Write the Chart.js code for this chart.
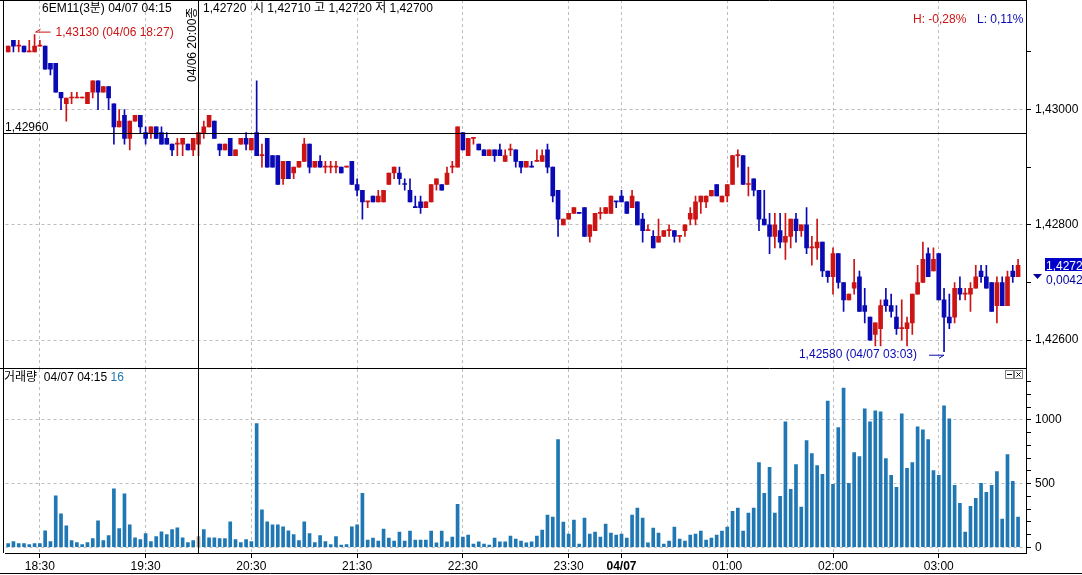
<!DOCTYPE html>
<html>
<head>
<meta charset="utf-8">
<script src="https://cdn.jsdelivr.net/npm/chart.js@4.4.1/dist/chart.umd.min.js"></script>
<style>
  html, body { margin: 0; padding: 0; background: #fff; overflow: hidden; }
  #wrap { position: relative; width: 1082px; height: 575px; }
  canvas { position: absolute; left: 0; }
  #price { top: 0; }
  #volume { top: 369px; }
</style>
</head>
<body>
<div id="wrap">
  <canvas id="price" width="1082" height="369"></canvas>
  <canvas id="volume" width="1082" height="206"></canvas>
</div>
<script>
// 3-minute bars, 04/06 18:12 .. 04/07 03:45
const times = [
  '18:12','18:15','18:18','18:21','18:24','18:27','18:30','18:33','18:36','18:39','18:42','18:45','18:48','18:51','18:54','18:57',
  '19:00','19:03','19:06','19:09','19:12','19:15','19:18','19:21','19:24','19:27','19:30','19:33','19:36','19:39','19:42','19:45','19:48','19:51','19:54','19:57',
  '20:00','20:03','20:06','20:09','20:12','20:15','20:18','20:21','20:24','20:27','20:30','20:33','20:36','20:39','20:42','20:45','20:48','20:51','20:54','20:57',
  '21:00','21:03','21:06','21:09','21:12','21:15','21:18','21:21','21:24','21:27','21:30','21:33','21:36','21:39','21:42','21:45','21:48','21:51','21:54','21:57',
  '22:00','22:03','22:06','22:09','22:12','22:15','22:18','22:21','22:24','22:27','22:30','22:33','22:36','22:39','22:42','22:45','22:48','22:51','22:54','22:57',
  '23:00','23:03','23:06','23:09','23:12','23:15','23:18','23:21','23:24','23:27','23:30','23:33','23:36','23:39','23:42','23:45','23:48','23:51','23:54','23:57',
  '00:00','00:03','00:06','00:09','00:12','00:15','00:18','00:21','00:24','00:27','00:30','00:33','00:36','00:39','00:42','00:45','00:48','00:51','00:54','00:57',
  '01:00','01:03','01:06','01:09','01:12','01:15','01:18','01:21','01:24','01:27','01:30','01:33','01:36','01:39','01:42','01:45','01:48','01:51','01:54','01:57',
  '02:00','02:03','02:06','02:09','02:12','02:15','02:18','02:21','02:24','02:27','02:30','02:33','02:36','02:39','02:42','02:45','02:48','02:51','02:54','02:57',
  '03:00','03:03','03:06','03:09','03:12','03:15','03:18','03:21','03:24','03:27','03:30','03:33','03:36','03:39','03:42','03:45'
]

const opens = [
  1.4310,1.4312,1.4311,1.4311,1.4310,1.4310,1.4311,1.4311,1.4308,1.4308,
  1.4303,1.4301,1.4302,1.4302,1.4302,1.4301,1.4303,1.4305,1.4303,1.4304,
  1.4301,1.4297,1.4299,1.4295,1.4298,1.4299,1.4296,1.4296,1.4297,1.4296,
  1.4295,1.4294,1.4294,1.4294,1.4294,1.4293,1.4294,1.4296,1.4297,1.4298,
  1.4294,1.4293,1.4295,1.4292,1.4294,1.4295,1.4293,1.4296,1.4292,1.4295,
  1.4292,1.4292,1.4288,1.4291,1.4289,1.4290,1.4291,1.4294,1.4290,1.4291,
  1.4290,1.4290,1.4290,1.4290,1.4290,1.4291,1.4287,1.4286,1.4284,1.4285,
  1.4284,1.4284,1.4287,1.4289,1.4289,1.4287,1.4286,1.4283,1.4284,1.4283,
  1.4284,1.4287,1.4287,1.4287,1.4290,1.4290,1.4296,1.4292,1.4295,1.4294,
  1.4293,1.4292,1.4293,1.4293,1.4291,1.4293,1.4293,1.4291,1.4290,1.4290,
  1.4291,1.4291,1.4293,1.4290,1.4286,1.4280,1.4281,1.4282,1.4282,1.4283,
  1.4278,1.4279,1.4282,1.4282,1.4282,1.4284,1.4285,1.4284,1.4283,1.4284,
  1.4281,1.4279,1.4278,1.4277,1.4278,1.4279,1.4279,1.4278,1.4279,1.4281,
  1.4281,1.4284,1.4284,1.4285,1.4287,1.4284,1.4285,1.4287,1.4292,1.4292,
  1.4287,1.4288,1.4286,1.4281,1.4280,1.4278,1.4279,1.4277,1.4278,1.4281,
  1.4279,1.4280,1.4276,1.4276,1.4277,1.4272,1.4271,1.4275,1.4270,1.4267,
  1.4269,1.4271,1.4266,1.4264,1.4261,1.4262,1.4267,1.4266,1.4264,1.4262,
  1.4262,1.4263,1.4268,1.4270,1.4275,1.4272,1.4275,1.4267,1.4264,1.4264,
  1.4269,1.4268,1.4268,1.4269,1.4272,1.4271,1.4270,1.4266,1.4270,1.4266,
  1.4272,1.4271
]
const highs = [
  1.4311,1.4312,1.4312,1.4311,1.4312,1.4313,1.4312,1.4311,1.4308,1.4308,
  1.4303,1.4302,1.4303,1.4303,1.4302,1.4303,1.4305,1.4305,1.4304,1.4304,
  1.4301,1.4300,1.4300,1.4298,1.4299,1.4299,1.4297,1.4297,1.4297,1.4297,
  1.4296,1.4294,1.4295,1.4295,1.4294,1.4295,1.4296,1.4298,1.4299,1.4298,
  1.4294,1.4294,1.4295,1.4293,1.4295,1.4296,1.4295,1.4305,1.4294,1.4295,
  1.4292,1.4292,1.4291,1.4291,1.4290,1.4291,1.4295,1.4294,1.4291,1.4292,
  1.4291,1.4291,1.4291,1.4290,1.4290,1.4291,1.4288,1.4286,1.4284,1.4285,
  1.4286,1.4286,1.4289,1.4290,1.4290,1.4288,1.4288,1.4285,1.4285,1.4284,
  1.4287,1.4288,1.4287,1.4290,1.4291,1.4297,1.4296,1.4295,1.4295,1.4294,
  1.4293,1.4293,1.4293,1.4294,1.4293,1.4294,1.4293,1.4291,1.4291,1.4291,
  1.4293,1.4293,1.4294,1.4290,1.4286,1.4281,1.4282,1.4283,1.4282,1.4283,
  1.4280,1.4282,1.4283,1.4283,1.4285,1.4284,1.4286,1.4284,1.4286,1.4284,
  1.4282,1.4280,1.4279,1.4281,1.4279,1.4280,1.4279,1.4278,1.4280,1.4283,
  1.4285,1.4285,1.4285,1.4286,1.4287,1.4285,1.4287,1.4292,1.4293,1.4292,
  1.4290,1.4288,1.4286,1.4286,1.4282,1.4282,1.4282,1.4282,1.4281,1.4282,
  1.4280,1.4283,1.4278,1.4281,1.4277,1.4272,1.4276,1.4275,1.4270,1.4268,
  1.4274,1.4272,1.4269,1.4264,1.4263,1.4267,1.4269,1.4268,1.4266,1.4267,
  1.4264,1.4268,1.4273,1.4277,1.4276,1.4276,1.4275,1.4269,1.4268,1.4270,
  1.4271,1.4269,1.4270,1.4273,1.4273,1.4273,1.4270,1.4271,1.4271,1.4272,
  1.4273,1.4274
]
const lows = [
  1.4310,1.4310,1.4310,1.4310,1.4310,1.4310,1.4311,1.4307,1.4306,1.4303,
  1.4300,1.4298,1.4301,1.4302,1.4302,1.4301,1.4302,1.4300,1.4303,1.4300,
  1.4294,1.4297,1.4294,1.4293,1.4298,1.4296,1.4294,1.4295,1.4295,1.4294,
  1.4294,1.4292,1.4292,1.4292,1.4293,1.4292,1.4292,1.4295,1.4297,1.4295,
  1.4292,1.4293,1.4292,1.4292,1.4294,1.4293,1.4293,1.4292,1.4290,1.4290,
  1.4290,1.4287,1.4287,1.4288,1.4288,1.4290,1.4291,1.4289,1.4290,1.4290,
  1.4289,1.4289,1.4289,1.4289,1.4290,1.4287,1.4285,1.4281,1.4283,1.4284,
  1.4284,1.4284,1.4287,1.4288,1.4287,1.4286,1.4284,1.4283,1.4282,1.4283,
  1.4284,1.4286,1.4286,1.4287,1.4289,1.4290,1.4293,1.4292,1.4294,1.4293,
  1.4292,1.4292,1.4291,1.4292,1.4291,1.4292,1.4290,1.4289,1.4290,1.4290,
  1.4291,1.4291,1.4289,1.4284,1.4278,1.4280,1.4281,1.4282,1.4282,1.4278,
  1.4277,1.4279,1.4281,1.4282,1.4282,1.4283,1.4284,1.4282,1.4283,1.4280,
  1.4277,1.4279,1.4276,1.4277,1.4278,1.4278,1.4277,1.4277,1.4278,1.4280,
  1.4280,1.4282,1.4283,1.4285,1.4285,1.4284,1.4284,1.4287,1.4290,1.4287,
  1.4285,1.4285,1.4279,1.4280,1.4275,1.4276,1.4276,1.4274,1.4276,1.4277,
  1.4278,1.4275,1.4273,1.4274,1.4271,1.4270,1.4268,1.4269,1.4265,1.4267,
  1.4268,1.4265,1.4263,1.4260,1.4259,1.4259,1.4265,1.4264,1.4261,1.4260,
  1.4259,1.4261,1.4268,1.4270,1.4271,1.4272,1.4267,1.4258,1.4262,1.4263,
  1.4267,1.4267,1.4265,1.4269,1.4270,1.4269,1.4265,1.4263,1.4266,1.4266,
  1.4270,1.4271
]
const closes = [
  1.4311,1.4311,1.4311,1.4310,1.4310,1.4311,1.4311,1.4307,1.4307,1.4303,
  1.4302,1.4302,1.4302,1.4302,1.4302,1.4303,1.4305,1.4303,1.4304,1.4302,
  1.4297,1.4298,1.4295,1.4298,1.4299,1.4297,1.4295,1.4297,1.4295,1.4294,
  1.4294,1.4293,1.4294,1.4295,1.4293,1.4295,1.4296,1.4297,1.4299,1.4295,
  1.4293,1.4294,1.4292,1.4293,1.4295,1.4294,1.4295,1.4292,1.4292,1.4290,
  1.4290,1.4287,1.4291,1.4288,1.4290,1.4291,1.4294,1.4290,1.4291,1.4290,
  1.4290,1.4290,1.4290,1.4289,1.4290,1.4287,1.4286,1.4284,1.4284,1.4284,
  1.4285,1.4286,1.4289,1.4290,1.4288,1.4287,1.4284,1.4283,1.4283,1.4284,
  1.4287,1.4288,1.4286,1.4289,1.4290,1.4297,1.4293,1.4295,1.4295,1.4293,
  1.4292,1.4293,1.4292,1.4292,1.4292,1.4293,1.4291,1.4290,1.4291,1.4290,
  1.4291,1.4292,1.4290,1.4285,1.4281,1.4281,1.4282,1.4283,1.4282,1.4278,
  1.4280,1.4282,1.4282,1.4283,1.4285,1.4284,1.4284,1.4282,1.4285,1.4280,
  1.4279,1.4279,1.4276,1.4278,1.4279,1.4279,1.4278,1.4278,1.4280,1.4282,
  1.4284,1.4285,1.4285,1.4286,1.4285,1.4285,1.4287,1.4292,1.4292,1.4287,
  1.4287,1.4286,1.4281,1.4280,1.4278,1.4280,1.4277,1.4278,1.4281,1.4279,
  1.4280,1.4276,1.4276,1.4277,1.4272,1.4271,1.4275,1.4270,1.4267,1.4268,
  1.4270,1.4265,1.4265,1.4260,1.4263,1.4266,1.4266,1.4265,1.4262,1.4262,
  1.4263,1.4268,1.4270,1.4274,1.4271,1.4274,1.4267,1.4264,1.4263,1.4269,
  1.4268,1.4268,1.4269,1.4271,1.4271,1.4269,1.4265,1.4270,1.4266,1.4271,
  1.4271,1.4273
]
const volumes = [
  29,44,29,29,21,29,29,130,44,403,
  263,169,52,36,21,36,68,208,52,91,
  458,146,419,177,75,60,107,44,83,122,
  99,138,153,75,36,52,83,138,75,75,
  68,68,200,60,36,60,44,972,294,200,
  177,177,161,130,99,52,200,107,36,91,
  44,21,83,17,21,161,177,424,57,73,
  49,143,73,49,120,49,127,57,57,57,
  127,34,127,42,81,338,81,96,26,42,
  26,18,73,42,42,88,65,49,34,42,
  88,135,252,237,845,198,104,213,26,229,
  104,120,81,182,112,96,104,73,252,307,
  229,34,151,112,26,49,159,65,49,96,
  104,127,57,73,96,127,159,283,307,127,
  268,307,666,424,627,268,400,985,455,650,
  315,837,736,642,572,1149,494,939,1251,502,
  744,712,1087,985,1071,1063,697,564,471,1048,
  619,666,946,923,845,603,564,1110,1009,486,
  346,120,322,385,502,432,486,595,221,728,
  517,237
]

// axis ticks
const tickTimes = ['18:30','19:30','20:30','21:30','22:30','23:30','00:00','01:00','02:00','03:00']
const tickLabels = ['18:30','19:30','20:30','21:30','22:30','23:30','04/07','01:00','02:00','03:00']
const priceTicks = [1.426, 1.427, 1.428, 1.429, 1.430, 1.431]
const volumeTicks = [0,100,200,300,400,500,600,700,800,900,1000,1100,1200,1300]

// header / crosshair texts
const title = '6EM11(3분) 04/07 04:15'
const lastInfo = '1,42720'
const ohlcInfo = '시 1,42710 고 1,42720 저 1,42700'
const crossTime = '20:00'
const crossLabel = '04/06 20:00종'
const crossPrice = 1.4296
const highText = 'H: -0,28%'
const lowText = 'L: 0,11%'
const currentPrice = '1,42720'
const currentDiff = '0,00420'
const volTitle = '거래량  04/07 04:15'
const volLast = '16'

const FONT = '"Liberation Sans", "Noto Sans CJK KR", sans-serif'
const RED = '#cc1414'
const BLUE = '#0a0ab4'
const VOL = '#1f77b4'
const GRID = '#bdbdbd'
Chart.defaults.font.family = FONT
Chart.defaults.font.size = 12
Chart.defaults.color = '#000'

const slots = times.concat([''])
const crossIndex = times.indexOf(crossTime)
const isTimeTick = (i) => tickTimes.includes(slots[i])
const fmt = (v) => v.toFixed(5).replace('.', ',')

const candleColors = closes.map((c, i) => {
  if (c > opens[i]) return RED
  if (c < opens[i]) return BLUE
  return (i === 0 || c >= closes[i - 1]) ? RED : BLUE
})

function line(ctx, x1, y1, x2, y2) {
  ctx.beginPath()
  ctx.moveTo(x1, y1)
  ctx.lineTo(x2, y2)
  ctx.stroke()
}

// right axis: fixed width, no label overhang padding
function fitRight(s) {
  s.width = 56
  s.paddingTop = 0
  s.paddingBottom = 0
}

const priceOverlay = {
  id: 'priceOverlay',
  afterDraw(chart) {
    const { ctx, chartArea: a, scales: { x, y } } = chart
    ctx.save()
    ctx.font = '12px ' + FONT
    ctx.lineWidth = 1
    ctx.strokeStyle = '#000'
    line(ctx, 3.5, 0, 3.5, a.bottom)
    line(ctx, 0, 0.5, a.right, 0.5)
    // separator between the two panels
    line(ctx, 0, a.bottom - 0.5, a.right, a.bottom - 0.5)

    // crosshair
    const cx = Math.round(x.getPixelForValue(crossIndex)) + 0.5
    const cy = Math.round(y.getPixelForValue(crossPrice)) + 0.5
    line(ctx, cx, 0, cx, a.bottom)
    line(ctx, 3.5, cy, a.right, cy)
    ctx.fillStyle = '#000'
    ctx.fillText(fmt(crossPrice), 5, cy - 3)
    ctx.save()
    ctx.translate(cx - 3, 82)
    ctx.rotate(-Math.PI / 2)
    ctx.fillText(crossLabel, 0, 0)
    ctx.restore()

    // header
    ctx.fillText(title, 42, 12)
    ctx.fillText(lastInfo, 203, 12)
    ctx.fillText(ohlcInfo, 253, 12)
    ctx.fillStyle = RED
    ctx.fillText(highText, 913, 23)
    ctx.fillStyle = BLUE
    ctx.fillText(lowText, 977, 23)

    // highest high marker
    const hi = highs.indexOf(Math.max(...highs))
    const hx = x.getPixelForValue(hi)
    const hy = y.getPixelForValue(highs[hi])
    ctx.strokeStyle = RED
    line(ctx, hx + 1, hy - 2.5, hx + 16, hy - 2.5)
    line(ctx, hx + 1, hy - 2.5, hx + 6, hy - 5.5)
    ctx.fillStyle = RED
    ctx.fillText(fmt(highs[hi]) + ' (04/06 ' + times[hi] + ')', hx + 21, hy + 1)

    // lowest low marker
    const lo = lows.indexOf(Math.min(...lows))
    const lx = x.getPixelForValue(lo)
    const ly = y.getPixelForValue(lows[lo])
    ctx.strokeStyle = BLUE
    line(ctx, lx - 15, ly + 3.5, lx, ly + 3.5)
    line(ctx, lx, ly + 3.5, lx - 5, ly + 6.5)
    ctx.fillStyle = BLUE
    ctx.textAlign = 'right'
    ctx.fillText(fmt(lows[lo]) + ' (04/07 ' + times[lo] + ')', lx - 27, ly + 6.5)
    ctx.textAlign = 'left'

    // current price tag
    const py = Math.round(y.getPixelForValue(closes[closes.length - 1]))
    ctx.fillStyle = '#0000c8'
    ctx.fillRect(1045, py - 7, 37, 13)
    ctx.fillStyle = '#fff'
    ctx.fillText(currentPrice, 1046, py + 5)
    ctx.fillStyle = '#0000a0'
    ctx.beginPath()
    ctx.moveTo(1033, py + 9)
    ctx.lineTo(1042, py + 9)
    ctx.lineTo(1037.5, py + 14)
    ctx.closePath()
    ctx.fill()
    ctx.fillText(currentDiff, 1046, py + 19)
    ctx.restore()
  }
}

const volumeOverlay = {
  id: 'volumeOverlay',
  afterDraw(chart) {
    const { ctx, chartArea: a, scales: { x } } = chart
    ctx.save()
    ctx.font = '12px ' + FONT
    ctx.lineWidth = 1
    ctx.strokeStyle = '#000'
    line(ctx, 3.5, 0, 3.5, a.bottom)
    line(ctx, 0, 204.5, 1082, 204.5)
    const cx = Math.round(x.getPixelForValue(crossIndex)) + 0.5
    line(ctx, cx, 0, cx, a.bottom)

    ctx.fillStyle = '#000'
    ctx.fillText(volTitle, 4, 12)
    const w = ctx.measureText(volTitle + ' ').width
    ctx.fillStyle = VOL
    ctx.fillText(volLast, 4 + w, 12)

    // panel buttons
    ctx.strokeStyle = '#808080'
    ctx.strokeRect(1005.5, 1.5, 8, 8)
    ctx.strokeRect(1014.5, 1.5, 8, 8)
    ctx.strokeStyle = '#000'
    line(ctx, 1007, 5.5, 1012, 5.5)
    line(ctx, 1016.5, 3.5, 1020.5, 7.5)
    line(ctx, 1020.5, 3.5, 1016.5, 7.5)
    ctx.restore()
  }
}

const xGrid = {
  offset: false,
  color: (c) => isTimeTick(c.index) ? GRID : 'rgba(0,0,0,0)',
  lineWidth: 1
}

new Chart(document.getElementById('price'), {
  type: 'bar',
  data: {
    labels: slots,
    datasets: [
      {
        label: 'body',
        data: opens.map((o, i) => [o, closes[i]]),
        backgroundColor: candleColors,
        barThickness: 4,
        minBarLength: 1,
        borderWidth: 0,
        grouped: false,
        order: 0
      },
      {
        label: 'wick',
        data: lows.map((l, i) => [l, highs[i]]),
        backgroundColor: candleColors,
        barThickness: 1,
        minBarLength: 1,
        borderWidth: 0,
        grouped: false,
        order: 1
      }
    ]
  },
  options: {
    responsive: false,
    animation: false,
    devicePixelRatio: 1,
    events: [],
    layout: { padding: { left: 5.5, top: 0, right: 0, bottom: 0 } },
    plugins: { legend: { display: false }, tooltip: { enabled: false } },
    scales: {
      x: {
        offset: true,
        grid: { ...xGrid, drawTicks: false },
        border: { display: true, color: '#000', dash: [3, 3] },
        ticks: { display: false },
        afterFit: (s) => { s.height = 0; s.paddingLeft = 0; s.paddingRight = 0 }
      },
      y: {
        position: 'right',
        min: 1.4255,
        max: 1.4319,
        afterBuildTicks: (s) => { s.ticks = priceTicks.map((v) => ({ value: v })) },
        afterFit: fitRight,
        grid: {
          color: (c) => Math.round(c.tick.value * 1000) % 2 === 0 ? GRID : 'rgba(0,0,0,0)',
          tickColor: '#000',
          tickLength: 5
        },
        border: { display: true, color: '#000', dash: [3, 3] },
        ticks: {
          autoSkip: false,
          padding: 4,
          callback: (v) => Math.round(v * 1000) % 2 === 0 ? fmt(v) : ''
        }
      }
    }
  },
  plugins: [priceOverlay]
})

new Chart(document.getElementById('volume'), {
  type: 'bar',
  data: {
    labels: slots,
    datasets: [{
      label: '거래량',
      data: volumes,
      backgroundColor: volumes.map((v, i) => i === crossIndex ? '#9a9a9a' : VOL),
      barThickness: 3,
      borderWidth: 0
    }]
  },
  options: {
    responsive: false,
    animation: false,
    devicePixelRatio: 1,
    events: [],
    layout: { padding: { left: 5.5, top: 0, right: 0, bottom: 0 } },
    plugins: { legend: { display: false }, tooltip: { enabled: false } },
    scales: {
      x: {
        offset: true,
        grid: {
          ...xGrid,
          drawTicks: true,
          tickLength: 5,
          tickColor: (c) => isTimeTick(c.index) ? '#000' : 'rgba(0,0,0,0)'
        },
        border: { display: true, color: '#000', dash: [3, 3] },
        ticks: {
          autoSkip: false,
          maxRotation: 0,
          minRotation: 0,
          padding: 1,
          callback: (v, i) => {
            const k = tickTimes.indexOf(slots[i])
            return k < 0 ? '' : tickLabels[k]
          },
          font: (c) => ({ size: 12, weight: slots[c.index] === '00:00' ? 'bold' : 'normal' })
        },
        afterFit: (s) => { s.height = 22; s.paddingLeft = 0; s.paddingRight = 0 }
      },
      y: {
        position: 'right',
        min: -45,
        max: 1400,
        afterBuildTicks: (s) => { s.ticks = volumeTicks.map((v) => ({ value: v })) },
        afterFit: fitRight,
        grid: {
          color: (c) => c.tick.value % 500 === 0 ? GRID : 'rgba(0,0,0,0)',
          tickColor: '#000',
          tickLength: 5
        },
        border: { display: true, color: '#000', dash: [3, 3] },
        ticks: {
          autoSkip: false,
          padding: 4,
          callback: (v) => v % 500 === 0 ? String(v) : ''
        }
      }
    }
  },
  plugins: [volumeOverlay]
})
</script>
</body>
</html>
